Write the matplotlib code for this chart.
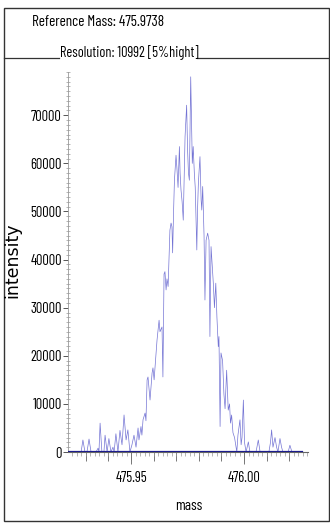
import numpy as np
import matplotlib
matplotlib.use("Agg")
import matplotlib.pyplot as plt
from matplotlib.ticker import MultipleLocator, NullLocator, FormatStrFormatter
from matplotlib.patches import Rectangle
from matplotlib.lines import Line2D
from matplotlib.textpath import TextPath
from matplotlib.font_manager import FontProperties

# header values
ref_mass = "475.9738"
resolution = 10992

# profile spectrum (mass, intensity)
mass = [475.9221, 475.9239, 475.9252, 475.9265, 475.9279, 475.9287, 475.9296, 475.9305,
        475.9314, 475.9323, 475.9336, 475.9345, 475.9354, 475.9358, 475.9363, 475.9371,
        475.9380, 475.9385, 475.9394, 475.9402, 475.9411, 475.9420, 475.9425, 475.9433,
        475.9442, 475.9451, 475.9460, 475.9469, 475.9478, 475.9486, 475.9495, 475.9504,
        475.9513, 475.9522, 475.9531, 475.9535, 475.9544, 475.9548, 475.9553, 475.9562,
        475.9566, 475.9571, 475.9575, 475.9584, 475.9593, 475.9597, 475.9602, 475.9615,
        475.9624, 475.9628, 475.9637, 475.9641, 475.9646, 475.9650, 475.9655, 475.9659,
        475.9664, 475.9668, 475.9672, 475.9677, 475.9681, 475.9684, 475.9688, 475.9692,
        475.9695, 475.9699, 475.9703, 475.9708, 475.9714, 475.9717, 475.9721, 475.9726,
        475.9731, 475.9734, 475.9739, 475.9746, 475.9750, 475.9754, 475.9758, 475.9764,
        475.9767, 475.9771, 475.9775, 475.9780, 475.9784, 475.9791, 475.9794, 475.9798,
        475.9805, 475.9810, 475.9813, 475.9817, 475.9823, 475.9827, 475.9832, 475.9839,
        475.9845, 475.9849, 475.9854, 475.9860, 475.9864, 475.9869, 475.9875, 475.9880,
        475.9886, 475.9889, 475.9894, 475.9898, 475.9905, 475.9911, 475.9916, 475.9923,
        475.9927, 475.9930, 475.9936, 475.9940, 475.9945, 475.9951, 475.9958, 475.9968,
        475.9973, 475.9982, 475.9987, 475.9991, 475.9997, 476.0002, 476.0009, 476.0019,
        476.0026, 476.0035, 476.0044, 476.0053, 476.0063, 476.0071, 476.0084, 476.0097,
        476.0110, 476.0117, 476.0122, 476.0128, 476.0137, 476.0144, 476.0150, 476.0159,
        476.0166, 476.0172, 476.0181, 476.0195, 476.0203, 476.0212, 476.0226, 476.0248,
        476.0262]
intensity = [0, 0, 0, 0, 0, 2500, 0, 0,
             2700, 0, 0, 0, 800, 0, 6000, 0,
             0, 3500, 0, 2800, 0, 1000, 0, 3800,
             0, 4500, 1500, 7700, 2500, 4600, 0, 1500,
             3500, 1000, 5000, 2500, 5300, 3500, 6700, 8100,
             6500, 15000, 15600, 10800, 16400, 17500, 15000, 23300,
             27400, 25000, 26000, 15600, 37000, 37500, 33700, 36000,
             34400, 40000, 46100, 47600, 46800, 41400, 49700, 56500,
             58600, 61700, 59000, 55000, 63500, 58000, 54500, 52000,
             48200, 55000, 65600, 72100, 63000, 58000, 56500, 78000,
             70000, 60000, 63500, 58000, 55000, 42000, 50000, 56000,
             61400, 52400, 50300, 55200, 45000, 31600, 44000, 45500,
             44000, 24000, 42700, 38000, 35100, 30000, 35100, 28000,
             21900, 24000, 5300, 20600, 19000, 12000, 9000, 17000,
             12000, 8700, 10000, 6000, 7700, 4000, 3000, 0,
             3500, 6700, 1500, 3000, 10800, 2000, 0, 2100,
             0, 0, 0, 0, 2500, 0, 0, 0,
             0, 2000, 4600, 1000, 3000, 1000, 0, 2800,
             1000, 0, 0, 0, 1400, 0, 0, 0,
             0]

FONT = ["Barlow Condensed", "Liberation Sans", "DejaVu Sans"]
plt.rcParams["font.family"] = FONT

def fit(s, px):
    # font size (pt) that makes string s about px pixels wide at 100 dpi
    w = TextPath((0, 0), s, size=10, prop=FontProperties(family=FONT)).get_extents().width
    return 10 * px / (w * 100 / 72)

W, H = 330, 524
def fx(px): return px / W
def fy(py): return 1 - py / H

tick_fs = fit("70000", 30)

fig = plt.figure(figsize=(3.3, 5.24), dpi=100)
ax = fig.add_axes([fx(68), fy(452), fx(308) - fx(68), fy(72) - fy(452)])
ax.plot(mass, intensity, color="#7474d4", lw=0.5, zorder=2)
ax.hlines(0, mass[0], mass[-1], color="#1c1c8c", lw=1.6, zorder=3)
ax.set_xlim(475.9221, 476.0283)
ax.set_ylim(0, 79000)

for s in ["top", "right"]:
    ax.spines[s].set_visible(False)
ax.spines["left"].set_color("#999")
ax.spines["left"].set_linewidth(0.6)
ax.spines["bottom"].set_color("#666")

ax.yaxis.set_major_locator(MultipleLocator(10000))
ax.yaxis.set_minor_locator(MultipleLocator(1000))
ax.tick_params(axis="y", which="major", direction="out", length=3.5, width=0.7,
               color="#555", labelsize=tick_fs, pad=1)
ax.tick_params(axis="y", which="minor", direction="inout", length=2.5, width=0.5, color="#999")

ax.xaxis.set_major_locator(MultipleLocator(0.05))
ax.xaxis.set_major_formatter(FormatStrFormatter("%.2f"))
ax.xaxis.set_minor_locator(MultipleLocator(0.002))
ax.tick_params(axis="x", which="major", direction="out", length=8.5, width=0.7,
               color="#777", labelsize=tick_fs, pad=5.5)
ax.tick_params(axis="x", which="minor", direction="out", length=2.8, width=0.5, color="#999")

sec = ax.secondary_xaxis("bottom")
sec.xaxis.set_major_locator(MultipleLocator(0.01))
sec.xaxis.set_minor_locator(NullLocator())
sec.tick_params(axis="x", direction="out", length=6.5, width=0.7, color="#777", labelbottom=False)
sec.spines["bottom"].set_visible(False)

# frame and header
fig.patches.append(Rectangle((fx(4), fy(521)), fx(329) - fx(4), fy(8) - fy(521),
                             transform=fig.transFigure, fill=False, ec="#333", lw=1))
fig.add_artist(Line2D([fx(4), fx(59)], [fy(58), fy(58)], color="#333", lw=0.9))
fig.add_artist(Line2D([fx(197), fx(330)], [fy(58), fy(58)], color="#333", lw=0.9))
t1 = f"Reference Mass: {ref_mass}"
t2 = f"Resolution: {resolution} [5%hight]"
fig.text(fx(32), fy(26), t1, ha="left", va="baseline", fontsize=fit(t1, 131))
fig.text(fx(60), fy(57), t2, ha="left", va="baseline", fontsize=fit(t2, 137))

fig.text(fx(12), fy(260), "intensity", rotation=90, ha="center", va="center",
         fontsize=12.5, family="DejaVu Sans")
fig.text(fx(189), fy(506), "mass", ha="center", va="center", fontsize=fit("mass", 26))

fig.savefig("out.png", dpi=100)
